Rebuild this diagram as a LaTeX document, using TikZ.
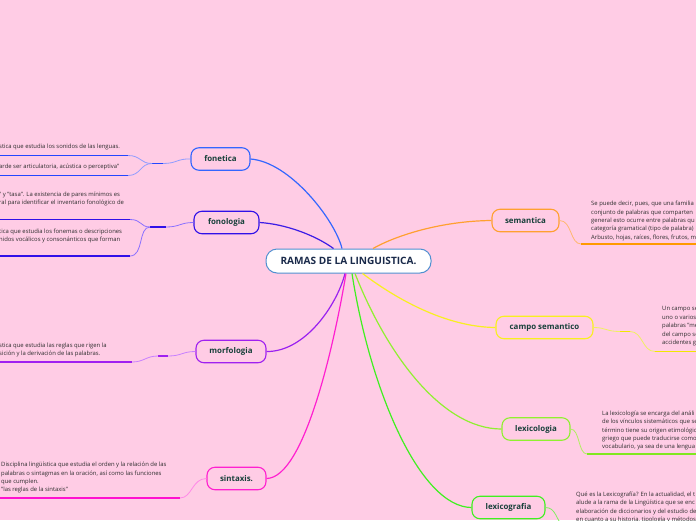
\documentclass[tikz,border=0pt]{standalone}
\usepackage{fontspec}
\setmainfont{Open Sans}
\usetikzlibrary{calc}
\definecolor{bg}{HTML}{FFCCE5}
\definecolor{lbl}{HTML}{17403A}
\definecolor{notec}{HTML}{2E2E2E}
\definecolor{navy}{HTML}{1A2A4A}
\definecolor{cblue}{HTML}{5090D0}
\definecolor{c1}{HTML}{3366FF}\definecolor{c1l}{HTML}{8F9CFF}\definecolor{c1d}{HTML}{2446FF}
\definecolor{c2}{HTML}{3C1DE6}\definecolor{c2l}{HTML}{8A70FF}\definecolor{c2d}{HTML}{3010E8}
\definecolor{c3}{HTML}{9A20F0}\definecolor{c3l}{HTML}{C880FF}\definecolor{c3d}{HTML}{A020F0}
\definecolor{c4}{HTML}{FF20D0}\definecolor{c4l}{HTML}{FF88E8}\definecolor{c4d}{HTML}{FF10D0}
\definecolor{c5}{HTML}{FFA030}\definecolor{c5l}{HTML}{FFB870}\definecolor{c5d}{HTML}{FF9A00}
\definecolor{c6}{HTML}{F8F020}\definecolor{c6l}{HTML}{F0F060}\definecolor{c6d}{HTML}{F0E800}
\definecolor{c7}{HTML}{90F030}\definecolor{c7l}{HTML}{B0F060}\definecolor{c7d}{HTML}{80E820}
\definecolor{c8}{HTML}{40F020}\definecolor{c8l}{HTML}{80F060}\definecolor{c8d}{HTML}{40E810}
\begin{document}
\begin{tikzpicture}[x=1pt,y=-1pt,
  topic/.style={draw, rounded corners=8pt, line width=1.1pt, minimum height=22.5pt, inner sep=0pt,
    font=\fontsize{7.9}{9}\selectfont\bfseries, text=lbl},
  note/.style={anchor=north west, inner sep=0pt, align=left,
    font=\fontsize{5.9}{8.4}\selectfont, text=notec},
  conn/.style={line width=1.2pt},
  link/.style={line width=0.8pt},
  seg/.style={line width=1.8pt},
  uline/.style={line width=1.3pt}]
\fill[bg] (0,0) rectangle (696,520);
\useasboundingbox (0,0) rectangle (696,520);
\begin{scope}
\clip (0,0) rectangle (696,520);

% central node
\node[draw=cblue, fill=white, rounded corners=11pt, line width=1pt, minimum width=165pt,
  minimum height=24pt, inner sep=0pt, font=\fontsize{10.1}{12}\selectfont\bfseries, text=navy]
  (root) at (348.5,261) {RAMAS DE LA LINGUISTICA.};

% topics
\node[topic, draw=c1, minimum width=59pt] (fonetica) at (220.5,159) {fonetica};
\node[topic, draw=c2d, minimum width=65pt] (fonologia) at (226.5,222.5) {fonologia};
\node[topic, draw=c3d, minimum width=70pt] (morfologia) at (231,351.5) {morfologia};
\node[topic, draw=c4, minimum width=59pt] (sintaxis) at (236.5,478.5) {sintaxis.};
\node[topic, draw=c5, minimum width=67pt] (semantica) at (525.5,220.5) {semantica};
\node[topic, draw=c6, minimum width=97pt] (campo) at (544.5,327.5) {campo semantico};
\node[topic, draw=c7, minimum width=68pt] (lexicologia) at (536,429) {lexicologia};
\node[topic, draw=c8, minimum width=73pt] (lexicografia) at (508.5,507.5) {lexicografia};

% main connectors
\draw[conn, c1] ($(root.north)+(-6.5,0)$) .. controls (335,220) and (290,162) .. (fonetica.east);
\draw[conn, c2] ($(root.north)+(-15,0)$) .. controls (315,235) and (285,224) .. (fonologia.east);
\draw[conn, c5] ($(root.north)+(24.5,0)$) .. controls (395,236) and (440,221) .. (semantica.west);
\draw[conn, c6] ($(root.south)+(14,0)$) .. controls (395,298) and (445,327) .. (campo.west);
\draw[conn, c7] ($(root.south)+(6.5,0)$) .. controls (385,350) and (440,429) .. (lexicologia.west);
\draw[conn, c8] ($(root.south)+(3.5,0)$) .. controls (370,390) and (420,507) .. (lexicografia.west);
\draw[conn, c3] ($(root.south)+(-3.5,0)$) .. controls (337,305) and (305,352) .. (morfologia.east);
\draw[conn, c4] ($(root.south)+(-2.5,0)$) .. controls (335,340) and (305,478) .. (sintaxis.east);

% fonetica notes
\coordinate (foh1) at (163,163.5); \coordinate (foh2) at (152,163.5);
\coordinate (foa) at (128,155.5); \coordinate (foa0) at (-2,155.5);
\coordinate (fob) at (128,175.5); \coordinate (fob0) at (-2,175.5);
\draw[link, c1l] (fonetica.west) .. controls (177,158.5) and (177,163.5) .. (foh1);
\draw[seg, c1d] (foh1) -- (foh2);
\draw[link, c1l] (foh2) .. controls (140,163.5) and (141,155.5) .. (foa);
\draw[link, c1l] (foh2) .. controls (140,163.5) and (141,175.5) .. (fob);
\draw[uline, c1d] (foa) -- (foa0);
\draw[uline, c1d] (fob) -- (fob0);
\node[note] (fot1) at (-1,143.5) {stica que estudia los sonidos de las lenguas.};
\node[note] (fot2) at (-1,163.5) {arde ser articulatoria, acústica o perceptiva"};

% fonologia notes
\coordinate (fnh1) at (166,227); \coordinate (fnh2) at (150,227);
\coordinate (fna) at (130,219.5); \coordinate (fna0) at (-2,219.5);
\coordinate (fnb) at (130,256); \coordinate (fnb0) at (-2,256);
\draw[link, c2l] (fonologia.west) .. controls (180,222.5) and (180,227) .. (fnh1);
\draw[seg, c2d] (fnh1) -- (fnh2);
\draw[link, c2l] (fnh2) .. controls (140,227) and (142,219.5) .. (fna);
\draw[link, c2l] (fnh2) .. controls (138,227) and (144,256) .. (fnb);
\draw[uline, c2d] (fna) -- (fna0);
\draw[uline, c2d] (fnb) -- (fnb0);
\node[note] (fnt1) at (-1,191.5) {" y "tasa". La existencia de pares mínimos es\\ral para identificar el inventario fonológico de};
\node[note] (fnt2) at (-1,228.5) {tica que estudia los fonemas o descripciones\\nidos vocálicos y consonánticos que forman};

% morfologia notes
\coordinate (moh1) at (168,356); \coordinate (moh2) at (158,356);
\coordinate (moa) at (132,362); \coordinate (moa0) at (-2,362);
\draw[link, c3l] (morfologia.west) .. controls (182,351.5) and (182,356) .. (moh1);
\draw[seg, c3d] (moh1) -- (moh2);
\draw[link, c3l] (moh2) .. controls (146,356) and (144,362) .. (moa);
\draw[uline, c3d] (moa) -- (moa0);
\node[note] (mot1) at (-1,342.5) {stica que estudia las reglas que rigen la\\sición y la derivación de las palabras.};

% sintaxis notes
\coordinate (sia) at (180,498); \coordinate (sia0) at (-2,498);
\draw[link, c4l] (sintaxis.west) .. controls (192,478.5) and (192,498) .. (sia);
\draw[uline, c4d] (sia) -- (sia0);
\node[note] (sit1) at (1,462) {Disciplina lingüística que estudia el orden y la relación de las\\palabras o sintagmas en la oración, así como las funciones\\que cumplen.\\"las reglas de la sintaxis"};

% semantica notes
\coordinate (sea) at (581,244); \coordinate (sea0) at (700,244);
\draw[link, c5l] (semantica.east) .. controls (572,220.5) and (570,244) .. (sea);
\draw[uline, c5d] (sea) -- (sea0);
\node[note] (set1) at (591,201) {Se puede decir, pues, que una familia\\conjunto de palabras que comparten\\general esto ocurre entre palabras qu\\categoría gramatical (tipo de palabra)\\Arbusto, hojas, raíces, flores, frutos, m};

% campo semantico notes
\coordinate (cah1) at (620,331.5); \coordinate (cah2) at (630,331.5);
\coordinate (caa) at (655,351.5); \coordinate (caa0) at (700,351.5);
\draw[link, c6l] (campo.east) .. controls (606,327.5) and (606,331.5) .. (cah1);
\draw[seg, c6d] (cah1) -- (cah2);
\draw[link, c6l] (cah2) .. controls (643,331.5) and (642,351.5) .. (caa);
\draw[uline, c6d] (caa) -- (caa0);
\node[note] (cat1) at (662,306.5) {Un campo se\\uno o varios\\palabras "me\\del campo se\\accidentes g};

% lexicologia notes
\coordinate (lxa) at (587,454); \coordinate (lxa0) at (700,454);
\draw[link, c7l] (lexicologia.east) .. controls (580,429) and (578,454) .. (lxa);
\draw[uline, c7d] (lxa) -- (lxa0);
\node[note] (lxt1) at (602,410.5) {La lexicología se encarga del análi\\de los vínculos sistemáticos que se\\término tiene su origen etimológic\\griego que puede traducirse como\\vocabulario, ya sea de una lengua};

% lexicografia notes
\coordinate (lga) at (563,526);
\draw[link, c8l] (lexicografia.east) .. controls (556,507.5) and (556,520) .. (lga);
\node[note] (lgt1) at (576,491.5) {Qué es la Lexicografía? En la actualidad, el t\\alude a la rama de la Lingüística que se enc\\elaboración de diccionarios y del estudio de\\en cuanto a su historia, tipología y métodos};
\end{scope}
\end{tikzpicture}
\end{document}
